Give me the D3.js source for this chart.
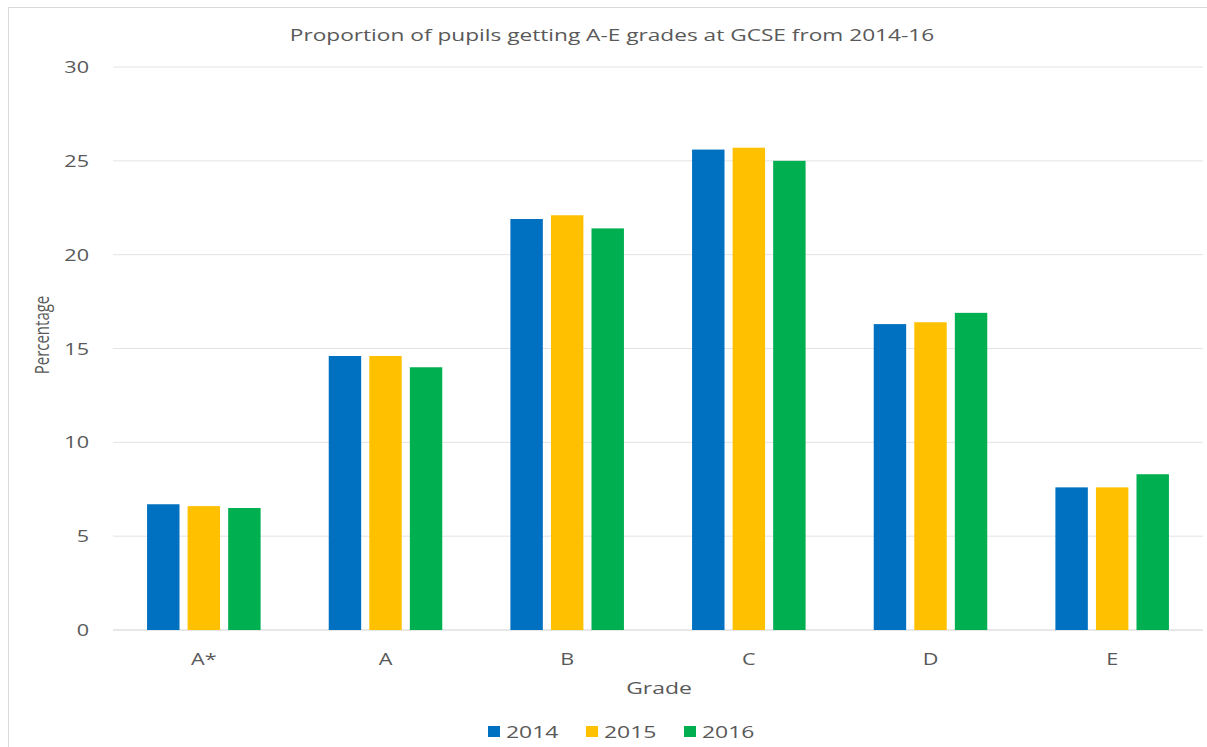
<!DOCTYPE html>
<html><head><meta charset="utf-8">
<script src="https://cdn.jsdelivr.net/npm/d3@7"></script>
<style>body{margin:0;background:#fff;font-family:"Open Sans",sans-serif;}</style>
</head><body><svg id="c" width="1207" height="747"></svg>
<script>
const categories = ["A*","A","B","C","D","E"];
const seriesNames = ["2014","2015","2016"];
const v2014 = [6.7,14.6,21.9,25.6,16.3,7.6];
const v2015 = [6.6,14.6,22.1,25.7,16.4,7.6];
const v2016 = [6.5,14.0,21.4,25.0,16.9,8.3];
const yTicks = [0,5,10,15,20,25,30];
const colors = ["#0070C0","#FFC000","#00B050"];
const seriesVals = [v2014,v2015,v2016];
const SX = 1.35;
const TXT = "#595959";

const svg = d3.select("#c");
svg.append("rect").attr("x",8.5).attr("y",7.5).attr("width",1210).attr("height",760)
  .attr("fill","#fff").attr("stroke","#d9d9d9");

const x = d3.scaleBand().domain(categories).range([113,1203]).paddingInner(0.375).paddingOuter(0.1875);
const xs = d3.scaleBand().domain(seriesNames).range([0,x.bandwidth()]).paddingInner(0.2);
const y = d3.scaleLinear().domain([0,30]).range([630,67]);

function stext(px, py, str, size, anchor, extra) {
  return svg.append("text")
    .attr("transform", `translate(${px},${py}) scale(${SX},1)` + (extra||""))
    .attr("text-anchor", anchor).attr("font-size", size).attr("fill", TXT).text(str);
}

const g = svg.append("g");
g.selectAll("line.grid").data(yTicks).join("line").attr("class","grid")
  .attr("x1",113).attr("x2",1203).attr("y1",d=>y(d)).attr("y2",d=>y(d))
  .attr("stroke",d=>d===0?"#d0d0d0":"#e3e3e3").attr("stroke-width",1);

yTicks.forEach(t => stext(89, y(t)+6, t, 16, "end"));

categories.forEach((c,i)=>{
  seriesNames.forEach((s,j)=>{
    const val = seriesVals[j][i];
    g.append("rect").attr("x",x(c)+xs(s)).attr("width",xs.bandwidth())
      .attr("y",y(val)).attr("height",y(0)-y(val)).attr("fill",colors[j]);
  });
  stext(x(c)+x.bandwidth()/2, 665, c, 16, "middle");
});

stext(612, 41, "Proportion of pupils getting A-E grades at GCSE from 2014-16", 16.8, "middle");
stext(49, 335, "Percentage", 15, "middle", " rotate(-90)");
stext(659, 694, "Grade", 17, "middle");

const legX = [488,586,684];
seriesNames.forEach((s,j)=>{
  svg.append("rect").attr("x",legX[j]).attr("y",726).attr("width",12).attr("height",11).attr("fill",colors[j]);
  stext(legX[j]+18, 738, s, 17, "start");
});
</script></body></html>
